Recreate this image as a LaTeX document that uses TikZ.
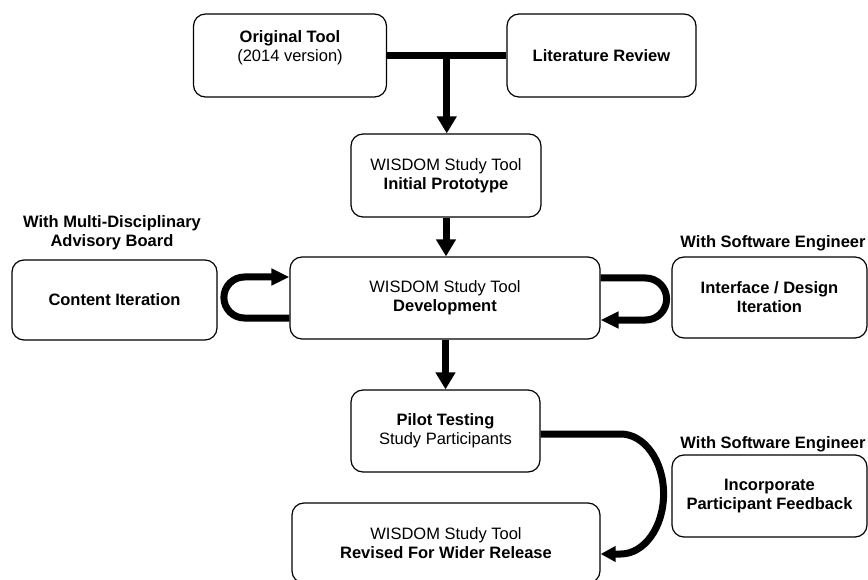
\documentclass[tikz,border=0pt]{standalone}
\usepackage{fontspec}
\setmainfont{Liberation Sans}
\usetikzlibrary{arrows.meta,calc}

\begin{document}
\begin{tikzpicture}[x=1pt, y=-1pt,
    every node/.style={font=\fontsize{16.5}{19}\selectfont, align=center, inner sep=0pt},
    stagebox/.style={draw, line width=1.2pt, rounded corners=12pt},
    flow/.style={line width=7pt, -{Triangle[length=17pt, width=19pt]}},
    loopflow/.style={line width=7pt, -{Triangle[length=18pt, width=16pt]}},
    feedflow/.style={line width=7pt, -{Triangle[length=15pt, width=15pt]}}]

    \useasboundingbox (0,0) rectangle (868,580);

    % top row
    \node[  stagebox,
            minimum width=193pt,
            minimum height=83pt] (orig) at (290, 55.5)
            { };
    \node (origtext) at (290, 48) {\textbf{Original Tool}\\(2014 version)};
    \node[  stagebox,
            minimum width=189pt,
            minimum height=83pt] (lit) at (601.5, 55.5)
            {\textbf{Literature Review}};

    \node[  stagebox,
            minimum width=190pt,
            minimum height=83pt] (proto) at (446, 175.5)
            {WISDOM Study Tool\\\textbf{Initial Prototype}};

    % middle row
    \node[  stagebox,
            minimum width=310pt,
            minimum height=82pt] (dev) at (445, 298)
            {WISDOM Study Tool\\\textbf{Development}};
    \node[  stagebox,
            minimum width=205pt,
            minimum height=80pt] (content) at (114.5, 300)
            {\textbf{Content Iteration}};
    \node[  stagebox,
            minimum width=195pt,
            minimum height=81pt] (iface) at (769.5, 297.5)
            {\textbf{Interface / Design}\\\textbf{Iteration}};

    \node (boardlabel) at (112, 233) {\textbf{With Multi-Disciplinary}\\\textbf{Advisory Board}};
    \node (swlabel) at (773, 243) {\textbf{With Software Engineer}};

    % bottom rows
    \node[  stagebox,
            minimum width=189pt,
            minimum height=82pt] (pilot) at (445.5, 431)
            {\textbf{Pilot Testing}\\Study Participants};
    \node[  stagebox,
            minimum width=195pt,
            minimum height=82pt] (incorp) at (769.5, 496)
            {\textbf{Incorporate}\\\textbf{Participant Feedback}};
    \node[  stagebox,
            minimum width=308pt,
            minimum height=80pt] (revised) at (446, 543)
            {WISDOM Study Tool\\\textbf{Revised For Wider Release}};

    \node (swlabeltwo) at (773, 444) {\textbf{With Software Engineer}};

    % connectors
    \coordinate (join) at ($(orig.east)!0.5!(lit.west)$);
    \draw[line width=7pt] (orig.east) -- (lit.west);
    \draw[flow] (join) -- (join |- proto.north);
    \draw[flow] (proto.south) -- (proto.south |- dev.north);
    \draw[flow] (dev.south -| pilot.north) -- (pilot.north);

    \draw[loopflow] ($(dev.west)+(0,20)$) -- ++(-45,0)
        arc[start angle=90, end angle=270, radius=20.5] -- ($(dev.west)+(0,-21)$);
    \draw[loopflow] ($(dev.east)+(0,-20)$) -- ++(45,0)
        arc[start angle=270, end angle=450, radius=21] -- ($(dev.east)+(0,22)$);

    \draw[feedflow] ($(pilot.east)+(0,3)$) -- ++(80,0)
        arc[start angle=270, end angle=450, x radius=43, y radius=60] -- ($(revised.east)+(0,11)$);

\end{tikzpicture}
\end{document}
